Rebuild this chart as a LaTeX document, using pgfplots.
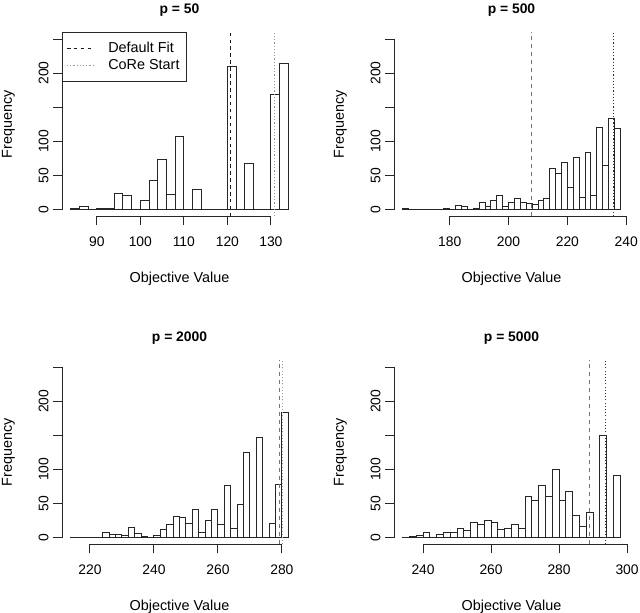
\documentclass[border=0pt]{standalone}
\usepackage{fontspec}
\setmainfont{Liberation Sans}
\usepackage{pgfplots}
\pgfplotsset{compat=1.18}
\pgfplotsset{
  rhist/.style={
    scale only axis, width=176.25pt, height=138.15pt,
    anchor=south west,
    ymin=-10, ymax=260,
    axis x line*=bottom, axis y line*=left,
    axis line style={draw=none},
    tick align=outside,
    major tick length=6.6pt,
    tick style={black!85, line width=0.65pt},
    ytick={0,50,100,150,200,250},
    yticklabels={0,50,100,{},200,{}},
    yticklabel style={rotate=90, anchor=south},
    xticklabel style={yshift=-5pt},
    xlabel={Objective Value}, ylabel={Frequency},
    every axis x label/.style={at={(axis description cs:0.5,-0.338)}, anchor=center, font=\fontsize{10.8pt}{13pt}\selectfont},
    every axis y label/.style={at={(axis description cs:-0.2285,0.5)}, rotate=90, anchor=center, font=\fontsize{10.8pt}{13pt}\selectfont},
    every axis title/.style={at={(axis description cs:0.5,1.12)}, anchor=center, font=\fontsize{10.4pt}{12pt}\selectfont\bfseries},
    font=\fontsize{10.4pt}{12pt}\selectfont,
    clip=false,
  },
  hbar/.style={ybar interval, fill=white, draw=black!85, line width=0.65pt, forget plot},
}
\begin{document}
\begin{tikzpicture}
\path[use as bounding box] (0,0) rectangle (480pt,459.75pt);
% p = 50
\begin{axis}[rhist, at={(46.5pt,297.5pt)}, xmin=82, xmax=136,
  xtick={90,100,110,120,130}, xticklabels={90,100,110,120,130},
  title={p = 50},
  legend style={at={(0,1)}, anchor=north west, draw=black!85, line width=0.65pt,
    font=\fontsize{10.8pt}{13pt}\selectfont, inner xsep=3pt, inner ysep=5pt, row sep=0pt, column sep=9pt},
  legend cell align=left,
  legend image code/.code={\draw[#1] (6pt,0pt) -- (25.5pt,0pt);}]
\addplot[hbar] coordinates {(84,1)(86,5)(88,0)(90,1)(92,1)(94,23)(96,20)(98,0)(100,14)(102,43)(104,73)(106,22)(108,107)(110,0)(112,30)(114,0)(116,0)(118,0)(120,209)(122,0)(124,68)(126,0)(128,0)(130,168)(132,214)(134,0)};
\addplot[black!90, line width=0.65pt, dash pattern=on 2.6pt off 2.6pt] coordinates {(120.7,-10)(120.7,260)};
\addlegendentry{Default Fit}
\addplot[black!40, line width=0.9pt, dash pattern=on 0.8pt off 1.6pt] coordinates {(130.8,-10)(130.8,260)};
\addlegendentry{CoRe Start}
\draw[black!85, line width=0.65pt] (axis cs:90,-10) -- (axis cs:130,-10);
\draw[black!85, line width=0.65pt] (axis cs:82,0) -- (axis cs:82,250);
\end{axis}
% p = 500
\begin{axis}[rhist, at={(295.5pt,297.5pt)}, xmin=161.04, xmax=240.96,
  xtick={180,200,220,240}, xticklabels={180,200,220,240},
  title={p = 500}]
\addplot[hbar] coordinates {(164,1)(166,0)(168,0)(170,0)(172,0)(174,0)(176,0)(178,2)(180,0)(182,6)(184,5)(186,0)(188,2)(190,10)(192,5)(194,13)(196,21)(198,4)(200,10)(202,16)(204,10)(206,9)(208,7)(210,13)(212,16)(214,60)(216,53)(218,69)(220,33)(222,76)(224,18)(226,83)(228,21)(230,120)(232,64)(234,133)(236,119)(238,0)};
\addplot[black!55, line width=0.9pt, dash pattern=on 3pt off 3pt] coordinates {(207.7,-10)(207.7,260)};
\addplot[black!80, line width=0.6pt, dash pattern=on 0.8pt off 1.6pt] coordinates {(235.7,-10)(235.7,260)};
\draw[black!85, line width=0.65pt] (axis cs:180,-10) -- (axis cs:240,-10);
\draw[black!85, line width=0.65pt] (axis cs:161.04,0) -- (axis cs:161.04,250);
\end{axis}
% p = 2000
\begin{axis}[rhist, at={(46.5pt,51.4pt)}, xmin=211.28, xmax=284.72,
  xtick={220,240,260,280}, xticklabels={220,240,260,280},
  title={p = 2000}]
\addplot[hbar] coordinates {(214,1)(216,0)(218,1)(220,1)(222,0)(224,8)(226,5)(228,4)(230,3)(232,15)(234,6)(236,2)(238,1)(240,3)(242,12)(244,19)(246,31)(248,30)(250,21)(252,41)(254,8)(256,25)(258,41)(260,19)(262,77)(264,13)(266,48)(268,125)(270,0)(272,147)(274,0)(276,21)(278,78)(280,183)(282,0)};
\addplot[black!55, line width=0.9pt, dash pattern=on 3pt off 3pt] coordinates {(279.3,-10)(279.3,260)};
\addplot[black!40, line width=0.9pt, dash pattern=on 0.8pt off 1.6pt] coordinates {(280.3,-10)(280.3,260)};
\draw[black!85, line width=0.65pt] (axis cs:220,-10) -- (axis cs:280,-10);
\draw[black!85, line width=0.65pt] (axis cs:211.28,0) -- (axis cs:211.28,250);
\end{axis}
% p = 5000
\begin{axis}[rhist, at={(295.5pt,51.4pt)}, xmin=231.44, xmax=300.56,
  xtick={240,260,280,300}, xticklabels={240,260,280,300},
  title={p = 5000}]
\addplot[hbar] coordinates {(234,1)(236,2)(238,3)(240,7)(242,0)(244,4)(246,7)(248,8)(250,13)(252,10)(254,22)(256,19)(258,25)(260,22)(262,12)(264,13)(266,20)(268,14)(270,61)(272,54)(274,76)(276,60)(278,100)(280,54)(282,68)(284,33)(286,16)(288,37)(290,0)(292,150)(294,0)(296,91)(298,0)};
\addplot[black!55, line width=0.9pt, dash pattern=on 3pt off 3pt] coordinates {(288.9,-10)(288.9,260)};
\addplot[black!80, line width=0.6pt, dash pattern=on 0.8pt off 1.6pt] coordinates {(293.6,-10)(293.6,260)};
\draw[black!85, line width=0.65pt] (axis cs:240,-10) -- (axis cs:300,-10);
\draw[black!85, line width=0.65pt] (axis cs:231.44,0) -- (axis cs:231.44,250);
\end{axis}
\end{tikzpicture}
\end{document}
